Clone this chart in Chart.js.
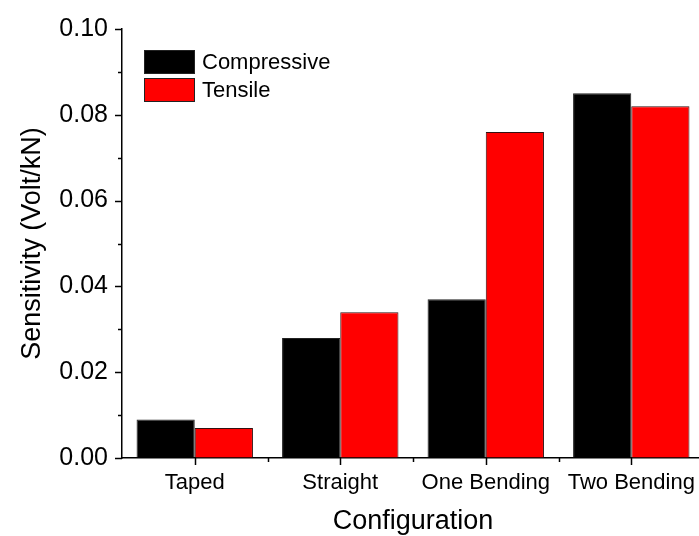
<!DOCTYPE html>
<html>
<head>
<meta charset="utf-8">
<script src="https://cdn.jsdelivr.net/npm/chart.js@4/dist/chart.umd.min.js"></script>
<style>
  html, body { margin: 0; padding: 0; background: #fff; overflow: hidden; }
  #wrap { width: 707px; height: 536px; }
</style>
</head>
<body>
<div id="wrap"><canvas id="c" width="707" height="536"></canvas></div>
<script>
const categories = ["Taped", "Straight", "One Bending", "Two Bending"];
const compressive = [0.009, 0.028, 0.037, 0.085];
const tensile = [0.007, 0.034, 0.076, 0.082];
const seriesNames = ["Compressive", "Tensile"];
const yMin = 0, yMax = 0.10, yStep = 0.01;

const FONT = "'Liberation Sans', Arial, sans-serif";

const decorPlugin = {
  id: 'decor',
  afterDraw(chart) {
    const { ctx, scales: { x, y } } = chart;
    ctx.save();
    ctx.strokeStyle = '#000';
    ctx.lineWidth = 1.5;
    // y ticks (major every 0.02, minor every 0.01)
    y.ticks.forEach(t => {
      const py = Math.round(y.getPixelForValue(t.value)) + 0.5;
      const major = Math.round(t.value * 100) % 2 === 0;
      const len = major ? 7 : 4;
      ctx.beginPath();
      ctx.moveTo(x.left - len, py);
      ctx.lineTo(x.left, py);
      ctx.stroke();
    });
    // x ticks: major at category centers, minor at boundaries
    const n = categories.length;
    const cw = (x.right - x.left) / n;
    for (let i = 0; i < n; i++) {
      const px = Math.round(x.getPixelForValue(i)) + 0.5;
      ctx.beginPath();
      ctx.moveTo(px, y.bottom);
      ctx.lineTo(px, y.bottom + 7);
      ctx.stroke();
      const bx = Math.round(x.getPixelForValue(i) + cw / 2) + 0.5;
      ctx.beginPath();
      ctx.moveTo(bx, y.bottom);
      ctx.lineTo(bx, y.bottom + 4);
      ctx.stroke();
    }
    // legend
    const ds = chart.data.datasets;
    ctx.font = '22px ' + FONT;
    ctx.textBaseline = 'middle';
    ctx.textAlign = 'left';
    ds.forEach((d, i) => {
      const bx = 144, by = 50 + i * 28, bw = 51, bh = 24;
      ctx.fillStyle = d.backgroundColor;
      ctx.fillRect(bx, by, bw, bh);
      ctx.lineWidth = 1;
      ctx.strokeStyle = '#222';
      ctx.strokeRect(bx + 0.5, by + 0.5, bw - 1, bh - 1);
      ctx.fillStyle = '#000';
      ctx.fillText(d.label, bx + bw + 7, by + bh / 2 + 1);
    });
    ctx.restore();
  }
};

new Chart(document.getElementById('c'), {
  type: 'bar',
  data: {
    labels: categories,
    datasets: [
      { label: seriesNames[0], data: compressive, backgroundColor: '#000000', borderColor: '#222222', borderWidth: 1 },
      { label: seriesNames[1], data: tensile, backgroundColor: '#ff0000', borderColor: '#331111', borderWidth: 1 }
    ]
  },
  options: {
    responsive: false,
    animation: false,
    events: [],
    layout: { padding: { top: 25, left: 0, right: 1, bottom: 0 } },
    plugins: { legend: { display: false }, tooltip: { enabled: false } },
    datasets: { bar: { categoryPercentage: 0.8, barPercentage: 1.0 } },
    scales: {
      x: {
        afterFit(scale) { scale.height = 78; },
        grid: { display: true, drawOnChartArea: false, drawTicks: false },
        border: { color: '#000', width: 1.5 },
        ticks: { color: '#000', font: { family: FONT, size: 22 }, padding: 12, maxRotation: 0, autoSkip: false },
        title: { display: true, text: 'Configuration', color: '#000', font: { family: FONT, size: 27, lineHeight: 1.1 }, padding: { top: 0, bottom: 0 } }
      },
      y: {
        min: yMin, max: yMax,
        afterFit(scale) { scale.width = 122; },
        grid: { display: true, drawOnChartArea: false, drawTicks: false },
        border: { color: '#000', width: 1.5 },
        ticks: {
          stepSize: yStep,
          color: '#000',
          font: { family: FONT, size: 25 },
          padding: 14,
          autoSkip: false,
          callback(v) { return Math.round(v * 100) % 2 === 0 ? v.toFixed(2) : ''; }
        },
        title: { display: true, text: 'Sensitivity (Volt/kN)', color: '#000', font: { family: FONT, size: 27, lineHeight: 1.2 }, padding: { top: 16, bottom: 0 } }
      }
    }
  },
  plugins: [decorPlugin]
});
</script>
</body>
</html>
